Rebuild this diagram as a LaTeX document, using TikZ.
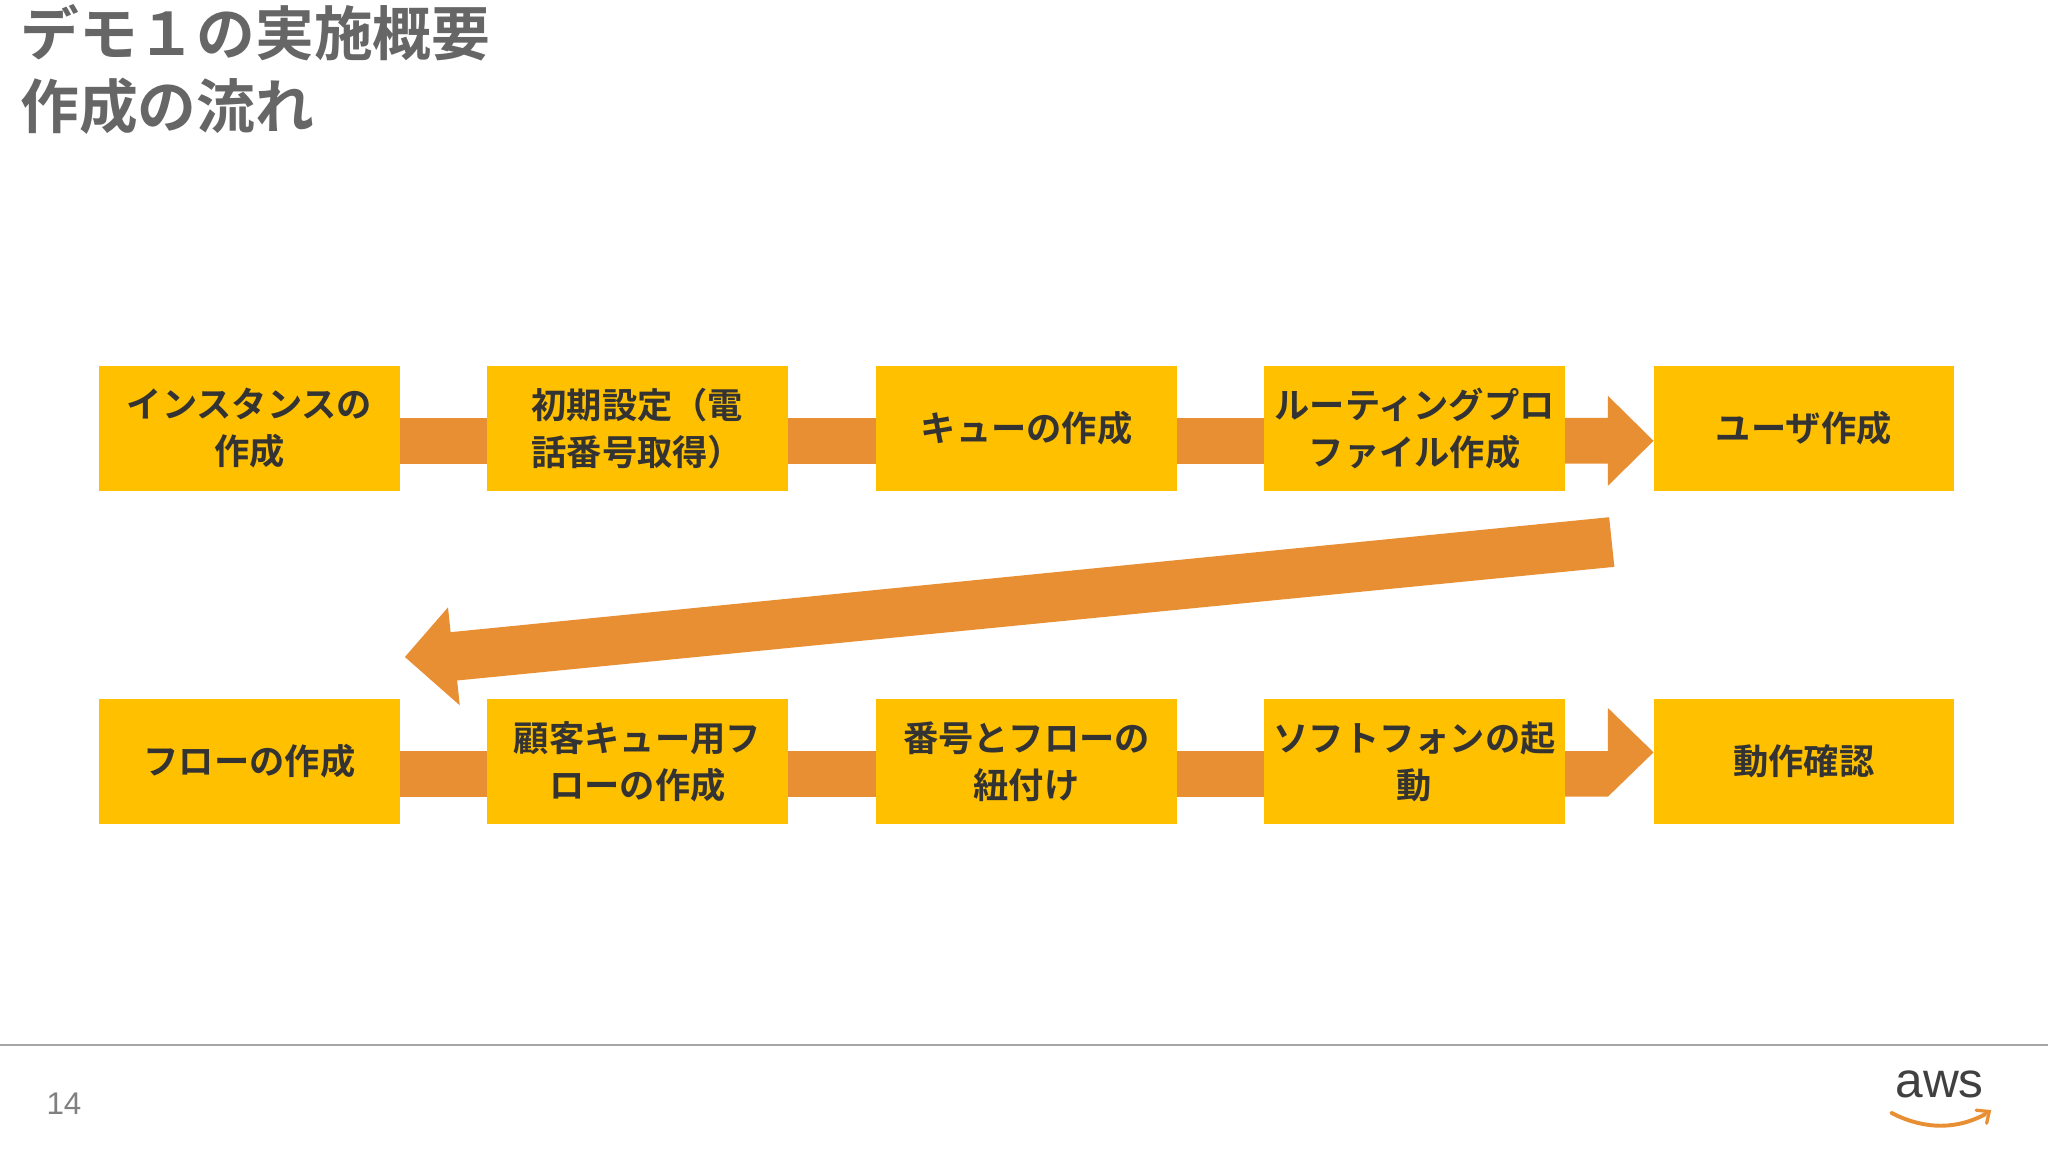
\documentclass[tikz,border=0pt]{standalone}
\usepackage{fontspec}
\newfontfamily\jp{Noto Sans CJK JP}[BoldFont={Noto Sans CJK JP Bold}]
\newfontfamily\lat{Liberation Sans}
\definecolor{boxc}{HTML}{FFC000}
\definecolor{arc}{HTML}{E88F33}
\definecolor{tgray}{HTML}{404040}
\begin{document}
\begin{tikzpicture}[x=1pt,y=-1pt,
  stepbox/.style={fill=boxc,minimum width=230pt,minimum height=96pt,inner sep=0pt,align=center,font=\jp\bfseries\fontsize{27}{36}\selectfont,text=tgray!80!black}]
\useasboundingbox (0,0) rectangle (1568,882);
\fill[white] (0,0) rectangle (1568,882);
\node[anchor=north west,align=left,font=\jp\bfseries\fontsize{45}{56}\selectfont,text=tgray!80] (title) at (12,0) {デモ１の実施概要\\作成の流れ};
\foreach \a/\b in {306/373,603/671,901/968}{\fill[arc] (\a,320) rectangle (\b,355);\fill[arc] (\a,575) rectangle (\b,610);}
\fill[arc] (1198,320) -- (1231,320) -- (1231,303) -- (1266,337.5) -- (1231,372) -- (1231,355) -- (1198,355) -- cycle;
\fill[arc] (1198,575) -- (1231,575) -- (1231,542) -- (1266,576) -- (1231,610) -- (1198,610) -- cycle;
\fill[arc] (1232,396) -- (1236,434) -- (350,521) -- (352,540) -- (310,503) -- (343,465) -- (345,484) -- cycle;
\node[stepbox] (a1) at (191,328) {インスタンスの\\作成};
\node[stepbox] (a2) at (488,328) {初期設定（電\\話番号取得）};
\node[stepbox] (a3) at (786,328) {キューの作成};
\node[stepbox] (a4) at (1083,328) {ルーティングプロ\\ファイル作成};
\node[stepbox] (a5) at (1381,328) {ユーザ作成};
\node[stepbox] (b1) at (191,583) {フローの作成};
\node[stepbox] (b2) at (488,583) {顧客キュー用フ\\ローの作成};
\node[stepbox] (b3) at (786,583) {番号とフローの\\紐付け};
\node[stepbox] (b4) at (1083,583) {ソフトフォンの起\\動};
\node[stepbox] (b5) at (1381,583) {動作確認};
\draw[gray!70,line width=1.2pt] (0,800) -- (1568,800);
\node[font=\lat\fontsize{24}{24}\selectfont,text=gray] (pg) at (49,845) {14};
\node[font=\lat\fontsize{38}{38}\selectfont,text=tgray] (aws) at (1485,830) {aws};
\draw[arc,line width=3pt,line cap=round] (1448,852) .. controls (1475,866) and (1500,864) .. (1520,853);
\draw[arc,line width=2.5pt,line cap=round] (1513,850) -- (1523,851) -- (1521,860);
\end{tikzpicture}
\end{document}
